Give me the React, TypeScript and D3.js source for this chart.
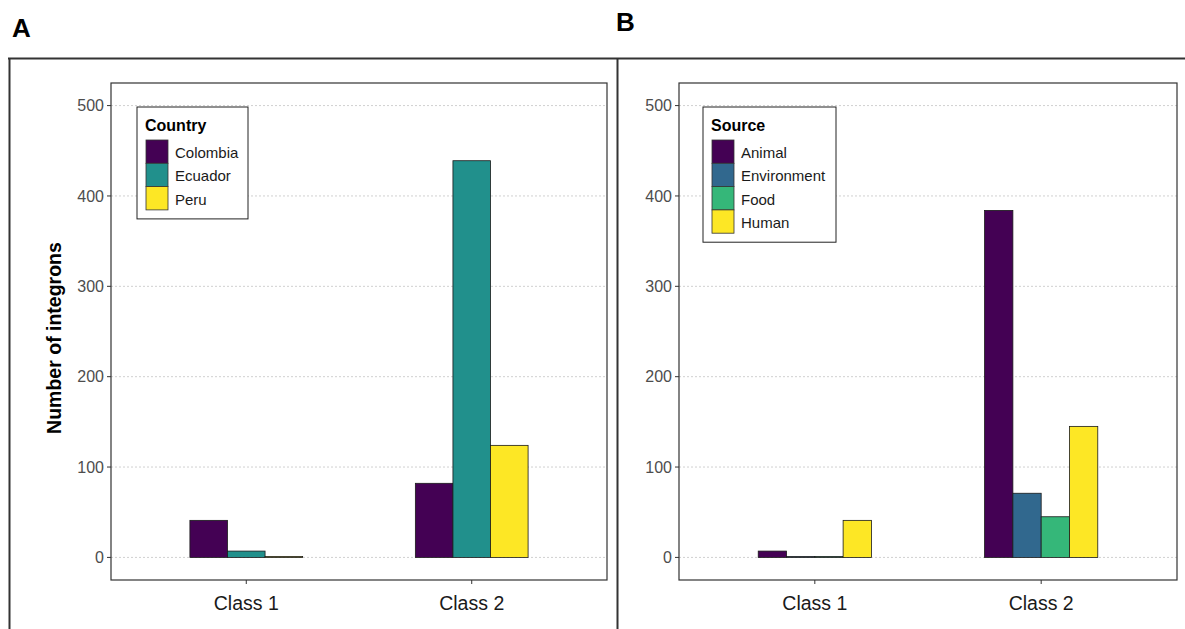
import React from "react";
import * as d3 from "d3";

const classes = ["Class 1", "Class 2"];
const yTicks = [0, 100, 200, 300, 400, 500];

const countries = ["Colombia", "Ecuador", "Peru"];
const countryColors = ["#440154", "#21908C", "#FDE725"];
const colombiaVals = [41, 82];
const ecuadorVals = [7, 439];
const peruVals = [1, 124];

const sources = ["Animal", "Environment", "Food", "Human"];
const sourceColors = ["#440154", "#31688E", "#35B779", "#FDE725"];
const animalVals = [7, 384];
const environmentVals = [1, 71];
const foodVals = [1, 45];
const humanVals = [41, 145];

const FONT = "'Liberation Sans', Arial, sans-serif";

type PanelProps = {
  x0: number; x1: number; y0: number; y1: number;
  groups: string[]; colors: string[]; series: number[][];
  legendTitle: string; legendX: number; legendW: number;
};

function Panel({ x0, x1, y0, y1, groups, colors, series, legendTitle, legendX, legendW }: PanelProps) {
  const y = d3.scaleLinear().domain([-25, 525]).range([y1, y0]);
  const unit = (x1 - x0) / 2.2;
  const xc = (i: number) => x0 + (0.6 + i) * unit;
  const inner = d3.scaleBand<string>().domain(groups).range([-0.25 * unit, 0.25 * unit]).padding(0);
  const keyH = 23.3;
  const legendY = 107;
  const legendH = 33 + groups.length * keyH + 9;
  return (
    <g>
      {yTicks.map((t) => (
        <line key={"g" + t} x1={x0} x2={x1} y1={y(t)} y2={y(t)} stroke="#d0d0d0" strokeWidth={1} strokeDasharray="2,2" />
      ))}
      {classes.map((c, i) =>
        series.map((vals, s) => {
          const bx = xc(i) + (inner(groups[s]) as number);
          const top = y(Math.max(vals[i], 0));
          return (
            <rect key={c + s} x={bx} y={top} width={inner.bandwidth()} height={y(0) - top}
              fill={colors[s]} stroke="#1a1a1a" strokeWidth={0.8} />
          );
        })
      )}
      <rect x={x0} y={y0} width={x1 - x0} height={y1 - y0} fill="none" stroke="#333" strokeWidth={1.2} />
      {yTicks.map((t) => (
        <g key={"t" + t}>
          <line x1={x0 - 4} x2={x0} y1={y(t)} y2={y(t)} stroke="#333" strokeWidth={1} />
          <text x={x0 - 7} y={y(t)} dy="0.35em" textAnchor="end" fontSize={16} fill="#4d4d4d" fontFamily={FONT}>{t}</text>
        </g>
      ))}
      {classes.map((c, i) => (
        <g key={"x" + c}>
          <line x1={xc(i)} x2={xc(i)} y1={y1} y2={y1 + 4} stroke="#333" strokeWidth={1} />
          <text x={xc(i)} y={y1 + 30} textAnchor="middle" fontSize={19.5} fill="#1a1a1a" fontFamily={FONT}>{c}</text>
        </g>
      ))}
      <rect x={legendX} y={legendY} width={legendW} height={legendH} fill="white" stroke="#222" strokeWidth={1} />
      <text x={legendX + 8} y={legendY + 24} fontSize={16} fontWeight="bold" fill="#000" fontFamily={FONT}>{legendTitle}</text>
      {groups.map((g, s) => (
        <g key={"l" + g}>
          <rect x={legendX + 9} y={legendY + 33 + s * keyH} width={22} height={keyH} fill={colors[s]} stroke="#333" strokeWidth={0.8} />
          <text x={legendX + 38} y={legendY + 33 + s * keyH + keyH / 2 + 1} dy="0.35em" fontSize={15} fill="#1a1a1a" fontFamily={FONT}>{g}</text>
        </g>
      ))}
    </g>
  );
}

export default function App() {
  return (
    <svg width={1185} height={629} style={{ position: "absolute", left: 0, top: 0, background: "white" }}>
      <rect x={0} y={0} width={1185} height={629} fill="white" />
      <text x={12} y={37} fontSize={26} fontWeight="bold" fontFamily={FONT} fill="#000">A</text>
      <text x={616} y={31} fontSize={26} fontWeight="bold" fontFamily={FONT} fill="#000">B</text>
      <line x1={8} x2={1185} y1={58.5} y2={58.5} stroke="#333" strokeWidth={2} />
      <line x1={9.5} x2={9.5} y1={58} y2={629} stroke="#333" strokeWidth={2} />
      <line x1={617.5} x2={617.5} y1={58} y2={629} stroke="#333" strokeWidth={2} />
      <Panel x0={111} x1={607} y0={83} y1={580} groups={countries} colors={countryColors}
        series={[colombiaVals, ecuadorVals, peruVals]} legendTitle="Country" legendX={137} legendW={111} />
      <Panel x0={679} x1={1177} y0={83} y1={580} groups={sources} colors={sourceColors}
        series={[animalVals, environmentVals, foodVals, humanVals]} legendTitle="Source" legendX={703} legendW={133} />
      <text transform="translate(61,338) rotate(-90)" textAnchor="middle" fontSize={19.5} fontWeight="bold" fill="#000" fontFamily={FONT}>Number of integrons</text>
    </svg>
  );
}
